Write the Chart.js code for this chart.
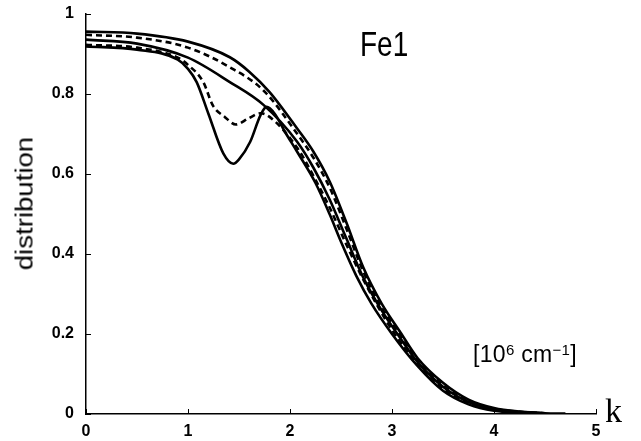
<!DOCTYPE html>
<html>
<head>
<meta charset="utf-8">
<script src="https://cdn.jsdelivr.net/npm/chart.js@4"></script>
<style>
  body { margin: 0; background: #fff; }
  #wrap { position: relative; width: 641px; height: 441px; }
  .note { position: absolute; color: #000; line-height: 1; white-space: nowrap; font-family: "Liberation Sans", Arial, sans-serif; }
  #fe { left: 360px; top: 33px; font-size: 28px; transform-origin: 0 24px; transform: scaleY(1.22); }
  #unit { left: 473px; top: 342px; font-size: 23px; letter-spacing: 0.3px; }
  #unit sup { font-size: 15px; vertical-align: 7px; line-height: 1; }
  #k { left: 605px; top: 394px; font-size: 34px; font-family: "Liberation Serif", "Times New Roman", serif; }
  #ylab { left: -45px; top: 192px; width: 140px; text-align: center; font-size: 23px; transform-origin: center; transform: rotate(-90deg) scaleX(1.2); }
</style>
</head>
<body>
<div id="wrap">
  <canvas id="chart" width="641" height="441"></canvas>
  <div class="note" id="ylab">distribution</div>
  <div class="note" id="fe">Fe1</div>
  <div class="note" id="unit">[10<sup>6</sup> cm<sup>&minus;1</sup>]</div>
  <div class="note" id="k">k</div>
</div>
<script>
// tick values
const xTickValues = [0, 1, 2, 3, 4, 5];
const yTickValues = [0, 0.2, 0.4, 0.6, 0.8, 1];
const yTickLabels = ['0', '0.2', '0.4', '0.6', '0.8', '1'];

// top solid curve
const kA = [0, 0.5, 1.0, 1.41, 1.6, 1.8, 2.07, 2.23, 2.39, 2.55, 2.72, 2.9, 3.08, 3.25, 3.5, 3.75, 4.0, 4.25, 4.5, 4.7];
const distA = [0.955, 0.95, 0.93, 0.891, 0.855, 0.804, 0.713, 0.655, 0.58, 0.48, 0.365, 0.275, 0.205, 0.14, 0.078, 0.036, 0.015, 0.006, 0.002, 0.001];

// dashed just below
const kB = [0, 0.5, 1.0, 1.41, 1.74, 2.07, 2.23, 2.39, 2.55, 2.72, 2.9, 3.08, 3.25, 3.5, 3.75, 4.0, 4.3];
const distB = [0.947, 0.94, 0.915, 0.866, 0.808, 0.70, 0.64, 0.565, 0.465, 0.355, 0.265, 0.198, 0.135, 0.072, 0.032, 0.013, 0.004];

// middle solid
const kC = [0, 0.5, 1.0, 1.41, 1.74, 2.07, 2.23, 2.39, 2.55, 2.72, 2.9, 3.08, 3.25, 3.5, 3.75, 4.0, 4.5];
const distC = [0.935, 0.925, 0.89, 0.829, 0.772, 0.68, 0.615, 0.535, 0.44, 0.34, 0.258, 0.19, 0.13, 0.068, 0.03, 0.012, 0.002];

// dashed with shallow dip
const kD = [0, 0.5, 0.9, 1.0, 1.15, 1.245, 1.36, 1.47, 1.59, 1.71, 1.8, 2.07, 2.25, 2.39, 2.55, 2.72, 3.0, 3.25, 3.5, 3.75, 4.0, 4.5];
const distD = [0.922, 0.915, 0.89, 0.872, 0.829, 0.77, 0.742, 0.723, 0.738, 0.751, 0.742, 0.665, 0.585, 0.515, 0.425, 0.335, 0.21, 0.125, 0.063, 0.027, 0.01, 0.002];

// solid with deep dip
const kE = [0, 0.5, 0.9, 1.0, 1.085, 1.2, 1.346, 1.444, 1.5, 1.61, 1.71, 1.77, 1.85, 1.95, 2.07, 2.25, 2.39, 2.5, 2.65, 2.8, 3.0, 3.25, 3.5, 3.75, 4.0, 4.5];
const distE = [0.918, 0.91, 0.885, 0.862, 0.829, 0.75, 0.651, 0.625, 0.636, 0.68, 0.746, 0.767, 0.75, 0.705, 0.655, 0.577, 0.498, 0.43, 0.345, 0.275, 0.20, 0.12, 0.058, 0.024, 0.008, 0.001];

function pts(ks, ys) {
    return ks.map((k, i) => ({ x: k, y: ys[i] }));
}

function curve(label, ks, ys, dashed) {
    return {
        label: label,
        data: pts(ks, ys),
        borderColor: '#000',
        borderWidth: 2.6,
        borderDash: dashed ? [6, 4] : [],
        fill: false,
        pointRadius: 0,
        cubicInterpolationMode: 'monotone',
    };
}

// inward tick marks like the original figure
const innerTicks = {
    id: 'innerTicks',
    afterDraw(chart) {
        const { ctx, chartArea, scales } = chart;
        ctx.save();
        ctx.strokeStyle = '#000';
        ctx.lineWidth = 1;
        ctx.beginPath();
        xTickValues.forEach(v => {
            const px = Math.round(scales.x.getPixelForValue(v)) + 0.5;
            ctx.moveTo(px, chartArea.bottom);
            ctx.lineTo(px, chartArea.bottom - 5);
        });
        yTickValues.forEach(v => {
            const py = Math.round(scales.y.getPixelForValue(v)) + 0.5;
            ctx.moveTo(chartArea.left, py);
            ctx.lineTo(chartArea.left + 5, py);
        });
        ctx.stroke();
        ctx.restore();
    },
};

const tickFont = { family: '"Liberation Sans", Arial, sans-serif', size: 16, weight: 'bold' };

new Chart(document.getElementById('chart').getContext('2d'), {
    type: 'line',
    data: {
        datasets: [
            curve('A', kA, distA, false),
            curve('B', kB, distB, true),
            curve('C', kC, distC, false),
            curve('D', kD, distD, true),
            curve('E', kE, distE, false),
        ],
    },
    options: {
        responsive: false,
        animation: false,
        layout: { padding: { left: 0, top: 11, right: 45, bottom: 0 } },
        plugins: {
            legend: { display: false },
            tooltip: { enabled: false },
        },
        scales: {
            x: {
                type: 'linear',
                min: 0,
                max: 5,
                afterBuildTicks: scale => { scale.ticks = xTickValues.map(v => ({ value: v })); },
                afterFit: scale => { scale.height = 27; },
                grid: { display: false },
                border: { display: true, color: '#000', width: 1.5 },
                ticks: { color: '#000', font: tickFont, padding: 0, maxRotation: 0 },
            },
            y: {
                type: 'linear',
                min: 0,
                max: 1,
                afterBuildTicks: scale => { scale.ticks = yTickValues.map(v => ({ value: v })); },
                afterFit: scale => { scale.width = 86; },
                grid: { display: false },
                border: { display: true, color: '#000', width: 1.5 },
                ticks: {
                    color: '#000',
                    font: tickFont,
                    padding: 4,
                    callback: (v, i) => yTickLabels[i],
                },
            },
        },
    },
    plugins: [innerTicks],
});
</script>
</body>
</html>
